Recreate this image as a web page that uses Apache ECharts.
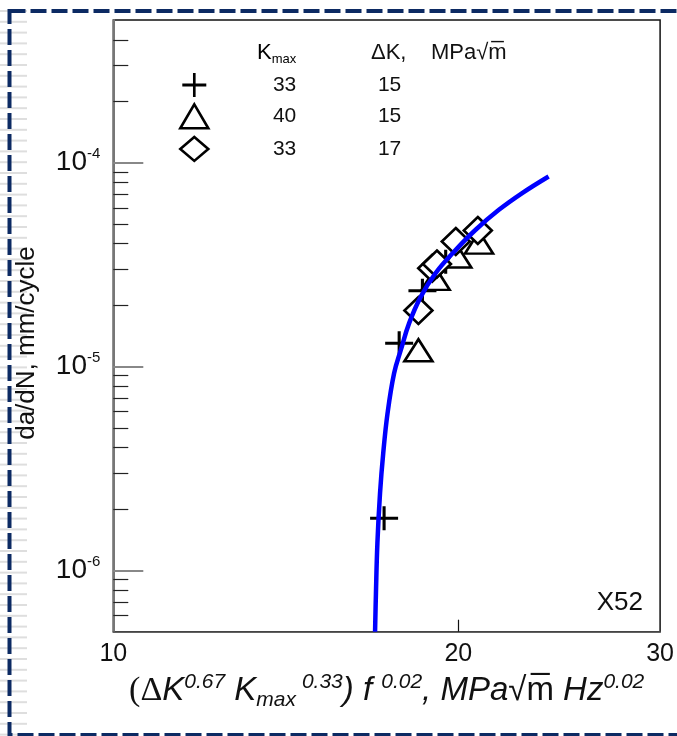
<!DOCTYPE html>
<html><head><meta charset="utf-8">
<script src="https://cdn.jsdelivr.net/npm/echarts@6/dist/echarts.min.js"></script>
<style>html,body{margin:0;padding:0;background:#fff}#c{width:677px;height:736px}</style>
</head><body><div id="c"></div>
<script>
// ---- data ----
const plusX = [17.23, 17.76, 18.61, 19.50];
const plusY = [1.80e-6, 1.30e-5, 2.35e-5, 3.26e-5];
const triX = [18.46, 19.11, 19.96, 20.85];
const triY = [1.20e-5, 2.69e-5, 3.46e-5, 4.05e-5];
const diaX = [18.46, 18.98, 19.16, 19.90, 20.80];
const diaY = [1.88e-5, 3.03e-5, 3.18e-5, 4.10e-5, 4.64e-5];
const curveX = [16.92, 16.95, 17.00, 17.09, 17.20, 17.35, 17.58, 17.82, 18.12, 18.55, 19.11, 19.90, 20.71, 21.70, 22.74, 23.98];
const curveY = [5.0e-7, 7.7e-7, 1.36e-6, 2.39e-6, 3.75e-6, 5.89e-6, 9.26e-6, 1.205e-5, 1.63e-5, 2.20e-5, 2.87e-5, 3.73e-5, 4.68e-5, 5.86e-5, 7.08e-5, 8.54e-5];
const seriesNames = ['plus', 'triangle', 'diamond'];
const kmaxValues = ['33', '40', '33'];
const dkValues = ['15', '15', '17'];
const xTickLabels = [10, 20, 30];
const xTickMarks = [20];
const yMajorTicks = [1e-6, 1e-5, 1e-4];
const yTickExponents = ['-6', '-5', '-4'];
const yMinorTicks = [6e-7, 7e-7, 8e-7, 9e-7,
  2e-6, 3e-6, 4e-6, 5e-6, 6e-6, 7e-6, 8e-6, 9e-6,
  2e-5, 3e-5, 4e-5, 5e-5, 6e-5, 7e-5, 8e-5, 9e-5,
  2e-4, 3e-4, 4e-4];

const FONT = 'Liberation Sans, Arial, sans-serif';
const plusPath = 'path://M-1,-0.12L1,-0.12L1,0.12L-1,0.12Z M-0.11,-1L0.11,-1L0.11,1L-0.11,1Z';
const zip = (a, b) => a.map((v, i) => [v, b[i]]);

const chart = echarts.init(document.getElementById('c'), null, {renderer: 'canvas'});

// decorative left stripes
const stripes = [];
for (let y = 10; y < 736; y += 10.8) {
  stripes.push({type: 'rect', shape: {x: 0, y: y, width: 27, height: 2}, style: {fill: '#dedede'}, z: 0, silent: true});
}

const yLabelFmt = v => {
  let idx = 0, best = Infinity;
  yMajorTicks.forEach((t, i) => { const d = Math.abs(Math.log10(v) - Math.log10(t)); if (d < best) { best = d; idx = i; } });
  return '{b|10}{s|' + yTickExponents[idx] + '}';
};

const hollow = {color: '#fff', borderColor: '#000', borderWidth: 2.6, opacity: 1};

chart.setOption({
  animation: false,
  backgroundColor: '#fff',
  textStyle: {fontFamily: FONT},
  grid: {left: 113.3, right: 15.3, top: 20, bottom: 104.3, show: true, borderColor: '#111', borderWidth: 1.5, backgroundColor: 'transparent'},
  xAxis: {
    type: 'log', logBase: 10, min: 10, max: 30,
    axisLine: {show: true, lineStyle: {color: '#555', width: 1.5}},
    axisTick: {show: true, inside: true, length: 12, customValues: xTickMarks, lineStyle: {color: '#111', width: 1.2}},
    axisLabel: {customValues: xTickLabels, fontSize: 25, color: '#111', margin: 10, fontFamily: FONT},
    splitLine: {show: false},
    minorTick: {show: false},
    name: '{p|(Δ}{i|K}{sp|0.67}{i| K}{sb|max}{sp| 0.33}{i|) f }{sp|0.02}{i|, MPa}{r|√m\u0305}{i| Hz}{sp|0.02}',
    nameLocation: 'middle', nameGap: 40,
    nameTextStyle: {
      rich: {
        p: {fontFamily: 'Liberation Serif, Times New Roman, serif', fontSize: 34, lineHeight: 39, color: '#111'},
        i: {fontFamily: FONT, fontStyle: 'italic', fontSize: 33, lineHeight: 39, color: '#111'},
        r: {fontFamily: FONT, fontSize: 33, lineHeight: 39, color: '#111'},
        sp: {fontFamily: FONT, fontStyle: 'italic', fontSize: 21, lineHeight: 24, verticalAlign: 'top', color: '#111'},
        sb: {fontFamily: FONT, fontStyle: 'italic', fontSize: 21, lineHeight: 14, verticalAlign: 'bottom', color: '#111'}
      }
    }
  },
  yAxis: [{
    type: 'log', logBase: 10, min: 5e-7, max: 5e-4, position: 'left',
    axisLine: {show: true, lineStyle: {color: '#777', width: 2}},
    axisTick: {show: true, inside: true, length: 30, customValues: yMajorTicks, lineStyle: {color: '#888', width: 2}},
    axisLabel: {customValues: yMajorTicks, formatter: yLabelFmt, margin: 13,
      rich: {
        b: {fontFamily: FONT, fontSize: 28, lineHeight: 32, color: '#111'},
        s: {fontFamily: FONT, fontSize: 15, lineHeight: 16, verticalAlign: 'top', color: '#111'}
      }},
    splitLine: {show: false},
    minorTick: {show: false}
  }, {
    type: 'log', logBase: 10, min: 5e-7, max: 5e-4, position: 'left', offset: 0,
    axisLine: {show: false},
    axisTick: {show: true, inside: true, length: 15, customValues: yMinorTicks, lineStyle: {color: '#222', width: 1.2}},
    axisLabel: {show: false},
    splitLine: {show: false},
    minorTick: {show: false}
  }],
  legend: {
    orient: 'vertical', left: 174, top: 68, itemWidth: 28, itemHeight: 24, itemGap: 6,
    selectedMode: false,
    data: [
      {name: seriesNames[0], icon: plusPath, itemStyle: {color: '#000', borderWidth: 0, opacity: 1}},
      {name: seriesNames[1], icon: 'triangle', itemStyle: hollow},
      {name: seriesNames[2], icon: 'diamond', itemStyle: hollow}
    ],
    formatter: name => { const i = seriesNames.indexOf(name); return '{a|' + kmaxValues[i] + '}{b|' + dkValues[i] + '}'; },
    textStyle: {rich: {
      a: {width: 83, align: 'right', fontSize: 21, lineHeight: 24, color: '#111', fontFamily: FONT},
      b: {width: 105, align: 'right', fontSize: 21, lineHeight: 24, color: '#111', fontFamily: FONT}
    }}
  },
  graphic: stripes.concat([
    {type: 'rect', shape: {x: 9.5, y: 11, width: 700, height: 724}, style: {fill: 'none', stroke: '#0c2a63', lineWidth: 4, lineDash: [16, 5]}, z: 1, silent: true},
    {type: 'text', x: 257, y: 53, style: {text: '{k|K}{s|max}', verticalAlign: 'middle',
      rich: {k: {fontFamily: FONT, fontSize: 22, lineHeight: 26, color: '#111'}, s: {fontFamily: FONT, fontSize: 13, lineHeight: 12, verticalAlign: 'bottom', color: '#111'}}}, z: 5},
    {type: 'text', x: 371, y: 53, style: {text: 'ΔK,', fontFamily: FONT, fontSize: 22, fill: '#111', verticalAlign: 'middle'}, z: 5},
    {type: 'text', x: 431, y: 53, style: {text: 'MPa√m\u0305', fontFamily: FONT, fontSize: 22, fill: '#111', verticalAlign: 'middle'}, z: 5},
    {type: 'text', x: 643, y: 603, style: {text: 'X52', fontFamily: FONT, fontSize: 26, fill: '#111', align: 'right', verticalAlign: 'middle'}, z: 5},
    {type: 'text', x: 27, y: 343, rotation: Math.PI / 2, style: {text: 'da/dN, mm/cycle', fontFamily: FONT, fontSize: 26, fill: '#111', align: 'center', verticalAlign: 'middle'}, z: 5}
  ]),
  series: [
    {name: seriesNames[0], type: 'scatter', data: zip(plusX, plusY), symbol: plusPath, symbolSize: [28, 24], itemStyle: {color: '#000', opacity: 1}, z: 3, emphasis: {disabled: true}},
    {name: seriesNames[1], type: 'scatter', data: zip(triX, triY), symbol: 'triangle', symbolSize: [28, 22], itemStyle: hollow, z: 3, emphasis: {disabled: true}},
    {name: seriesNames[2], type: 'scatter', data: zip(diaX, diaY), symbol: 'diamond', symbolSize: [28, 27], itemStyle: hollow, z: 3, emphasis: {disabled: true}},
    {name: 'fit', type: 'line', data: zip(curveX, curveY), smooth: 0.4, showSymbol: false, symbol: 'none', lineStyle: {color: '#0000ff', width: 4.5}, z: 4, emphasis: {disabled: true}, silent: true}
  ]
});
</script></body></html>
